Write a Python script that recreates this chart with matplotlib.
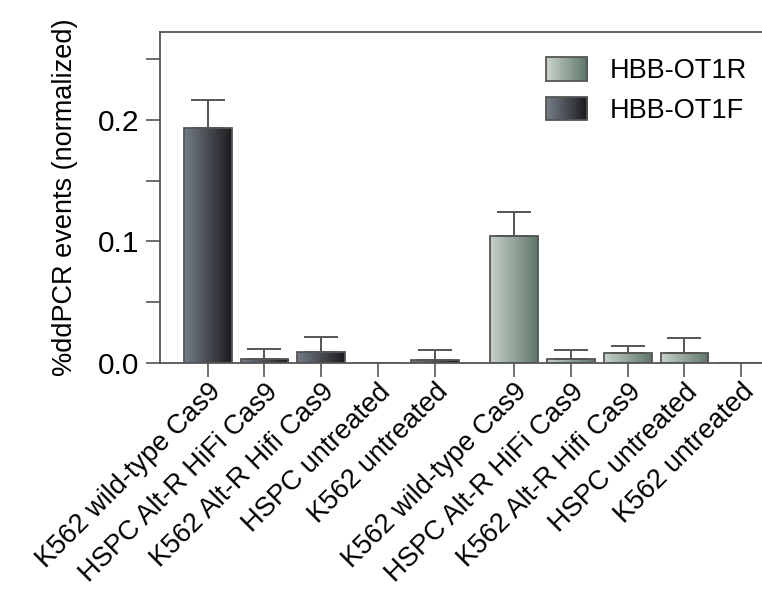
import numpy as np
import matplotlib
matplotlib.use("Agg")
import matplotlib.pyplot as plt
from matplotlib.colors import LinearSegmentedColormap, to_rgb
from matplotlib.legend_handler import HandlerBase
from matplotlib.patches import Rectangle

plt.rcParams["font.family"] = ["Liberation Sans", "DejaVu Sans"]

categories = ["K562 wild-type Cas9", "HSPC Alt-R HiFi Cas9", "K562 Alt-R Hifi Cas9",
              "HSPC untreated", "K562 untreated"]
series = ["HBB-OT1F", "HBB-OT1R"]
values_f = [0.1934, 0.0030, 0.0093, 0.0, 0.0027]
errors_f = [0.0232, 0.0085, 0.0117, 0.0, 0.0077]
values_r = [0.1044, 0.0030, 0.0082, 0.0082, 0.0]
errors_r = [0.0194, 0.0080, 0.0060, 0.0121, 0.0]

grad_f = ("#737c86", "#1c1c1e")
grad_r = ("#c8d2c9", "#5e7667")
edge = "#555555"


def gradient_bars(ax, xs, heights, errs, cols):
    cmap = LinearSegmentedColormap.from_list("g", cols)
    grad = np.linspace(0, 1, 256).reshape(1, -1)
    bars = ax.bar(xs, heights, width=0.84, color="none", edgecolor=edge,
                  linewidth=1.3, zorder=3)
    for b, h in zip(bars, heights):
        if h <= 0:
            continue
        x0, w = b.get_x(), b.get_width()
        im = ax.imshow(grad, cmap=cmap, aspect="auto", zorder=2,
                       extent=(x0, x0 + w, 0, h), interpolation="bicubic")
        im.set_clip_path(b)
    for x, h, e in zip(xs, heights, errs):
        if e <= 0:
            continue
        ax.errorbar(x, h, yerr=[[0], [e]], fmt="none", ecolor=edge,
                    elinewidth=1.4, capsize=12, capthick=1.4, zorder=4)


class GradHandler(HandlerBase):
    def __init__(self, cols):
        super().__init__()
        self.cols = cols

    def create_artists(self, legend, orig, xd, yd, width, height, fontsize, trans):
        c0, c1 = np.array(to_rgb(self.cols[0])), np.array(to_rgb(self.cols[1]))
        n = 30
        arts = []
        h = height * 1.25
        y0 = yd - (h - height) / 2
        for i in range(n):
            t = i / (n - 1)
            arts.append(Rectangle((xd + width * i / n, y0), width / n + 0.3, h,
                                  facecolor=c0 * (1 - t) + c1 * t, edgecolor="none",
                                  transform=trans))
        arts.append(Rectangle((xd, y0), width, h, facecolor="none", edgecolor=edge,
                              linewidth=1.3, transform=trans))
        return arts


fig = plt.figure(figsize=(7.62, 5.95), dpi=100)
ax = fig.add_axes([0.21, 0.39, 0.80, 0.556])

gap = 0.4
xs_f = np.arange(len(categories))
xs_r = np.arange(len(categories)) + len(categories) + gap

gradient_bars(ax, xs_f, values_f, errors_f, grad_f)
gradient_bars(ax, xs_r, values_r, errors_r, grad_r)

ax.set_xlim(-0.84, xs_r[-1] + 0.5)
ax.set_ylim(0, 0.272)
ax.set_yticks([0, 0.1, 0.2])
ax.set_yticklabels(["0.0", "0.1", "0.2"])
ax.set_yticks([0.05, 0.15, 0.25], minor=True)
ax.set_xticks(np.concatenate([xs_f, xs_r]))
ax.set_xticklabels(categories + categories, rotation=45, ha="right",
                   rotation_mode="anchor", fontsize=19.5)
ax.tick_params(axis="both", which="both", direction="out", length=10, width=1.2,
               color="#555555", labelsize=21.5, pad=5)
ax.tick_params(axis="x", labelsize=19.5, pad=1.5)
ax.set_ylabel("%ddPCR events (normalized)", fontsize=19.5, labelpad=14)

for s in ["left", "bottom", "top"]:
    ax.spines[s].set_color("#555555")
    ax.spines[s].set_linewidth(1.3)
ax.spines["right"].set_visible(False)

h_r = Rectangle((0, 0), 1, 1)
h_f = Rectangle((0, 0), 1, 1)
ax.legend([h_r, h_f], ["HBB-OT1R", "HBB-OT1F"],
          handler_map={h_r: GradHandler(grad_r), h_f: GradHandler(grad_f)},
          loc="upper left", bbox_to_anchor=(0.594, 0.994), frameon=False,
          fontsize=19.5, handlelength=1.5, handletextpad=0.85, labelspacing=0.5)

fig.savefig("out.png", dpi=100)
